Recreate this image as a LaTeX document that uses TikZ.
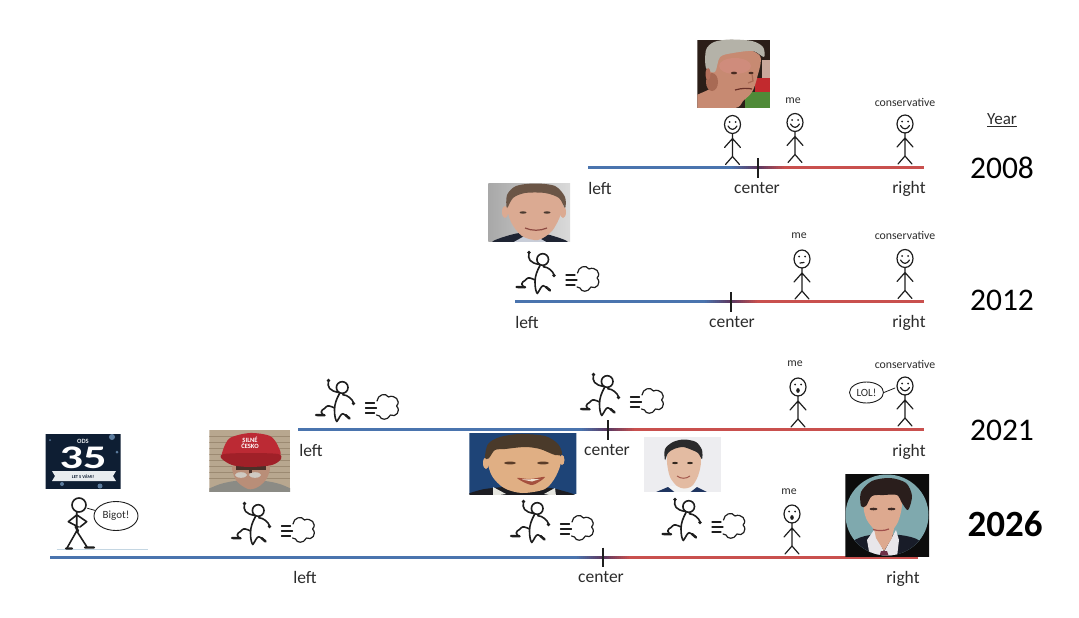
\documentclass[tikz,border=0pt]{standalone}
\usepackage{fontspec}
\setmainfont{Carlito}
\usetikzlibrary{calc,shapes.geometric}
\newcommand{\dc}[2]{\definecolor{#1}{HTML}{#2}}
\dc{lblue}{4A74AE}\dc{lred}{C9504E}\dc{lmid}{5E3A62}\dc{ink}{1E1E1E}\dc{txt}{2C2C2C}
\dc{aDark}{2B1E18}\dc{aPink}{C9A79A}\dc{aRed}{C22A2E}\dc{aGreen}{4F8A38}\dc{aSkin}{C78A72}\dc{aFlush}{CF8C7C}\dc{aHair}{B4B2A8}\dc{aEar}{B5705C}\dc{aEye}{4A2C22}\dc{aMouth}{6A3028}\dc{aShade}{A86A54}
\dc{bL}{A8A8A8}\dc{bR}{DADADA}\dc{bSkin}{DBAA92}\dc{bHair}{6B5546}\dc{bSuit}{1E2433}\dc{bShirt}{C8CDD8}\dc{bEye}{4A3A30}\dc{bMouth}{8E4A42}
\dc{oBg}{0E1E33}\dc{oBand}{E8ECEF}\dc{oSpot}{5C7C9E}
\dc{hBg}{B8A78F}\dc{hRed}{BC2A34}\dc{hDark}{A02028}\dc{hSkin}{B98E78}\dc{hGrey}{CFCAC2}\dc{hShirt}{8B8B85}\dc{hShade}{4A3028}\dc{hLine}{9C8A72}
\dc{tBg}{1E4477}\dc{tSkin}{E0AF84}\dc{tHair}{4A3A2A}\dc{tShirt}{E6E6E0}\dc{tSuit}{1D1D22}\dc{tEye}{5A3C28}\dc{tMouth}{A5503E}\dc{tTeeth}{EFE0D0}
\dc{pBg}{EDEDF0}\dc{pSkin}{E3BBA2}\dc{pHair}{2A2A2C}\dc{pSuit}{1F3560}\dc{pShirt}{F2F2F2}\dc{pEye}{33281F}\dc{pMouth}{A55A4E}
\dc{kBg}{0C0C0C}\dc{kTeal}{7FA9AE}\dc{kHair}{2A1E1C}\dc{kSkin}{DDA98F}\dc{kSuit}{181C28}\dc{kShirt}{E8E6EA}\dc{kTie}{6E3048}\dc{kEye}{3E2A24}\dc{kMouth}{A0504C}
\dc{gline}{C4D6E2}
\tikzset{
  lbl/.style={font=\fontsize{17.5}{18}\selectfont,text=txt,inner sep=0pt},
  small/.style={font=\fontsize{11.8}{12}\selectfont,text=txt,inner sep=0pt},
  yearlbl/.style={font=\fontsize{31.5}{33}\selectfont,text=black,inner sep=0pt},
  fig/.style={draw=ink,line width=1.2pt,line cap=round,line join=round},
  run/.style={draw=ink,line width=1.6pt,line cap=round,line join=round},
  bubble/.style={draw=ink,line width=.9pt,ellipse,inner sep=0pt,text=txt},
}
\newcommand{\stickman}[3]{%
  \begin{scope}[shift={(#1,#2)}]
    \draw[fig] (0,0) ellipse (8 and 9);
    \draw[fig] (0,9) -- (0,32) (-8,23) -- (0,14) -- (8,23) (-7,40) -- (0,32) -- (7,40);
    \fill[ink] (-3,-2.5) circle (1) (3,-2.5) circle (1);
    #3
  \end{scope}}
\newcommand{\msmile}{\draw[fig] (-4.5,1.5) .. controls (-2,6) and (2,6) .. (4.5,1.5);}
\newcommand{\mflat}{\draw[fig] (-2,4) -- (2,3.5);}
\newcommand{\moh}{\fill[ink] (0,3.5) ellipse (1.8 and 2.4);}
\newcommand{\runner}[2]{%
  \begin{scope}[shift={(#1,#2)}]
    \draw[run] (27.7,7.5) circle (5.8);
    \draw[run] (14,1) .. controls (12.5,7) and (15,11) .. (24.5,12.5);
    \fill[ink] (14,0.5) circle (1.8);
    \draw[run] (25,13.5) .. controls (22,19) and (20,24) .. (20,30) .. controls (20,36) and (21,40) .. (22.3,41.5) .. controls (25,38) and (26,34) .. (28.3,33.7) .. controls (31,34) and (33,37) .. (35,38);
    \draw[run,line width=2.4pt] (31,35) -- (35,38.5);
    \draw[run] (28.3,14.7) .. controls (33,15) and (38,19) .. (39,23);
    \fill[ink] (39,23.5) circle (1.9);
    \draw[run] (20,28) .. controls (16,26) and (13,25) .. (11.5,27) .. controls (9,30) and (6,30) .. (6.7,32) .. controls (7,34) and (9,35) .. (10,35);
    \draw[run,line width=2.4pt] (1.5,35) -- (10,35.3);
    \draw[fig] (51,23) -- (60,23) (51,28) -- (62,28) (51,33) -- (60,33);
    \draw[fig] (62.5,21) .. controls (63,15) and (71,12) .. (74,17) .. controls (80,14) and (87,21) .. (82,26)
       .. controls (87,31) and (81,38) .. (76,35) .. controls (73,41) and (66,40) .. (65,36)
       .. controls (64,35) and (63,35) .. (62,35);
  \end{scope}}
\newcommand{\axis}[4]{%
  \fill[lblue] (#1,#3-1.5) rectangle (#4-28,#3+1.5);
  \fill[lred] (#4+28,#3-1.5) rectangle (#2,#3+1.5);
  \foreach \i in {0,...,13}{%
    \pgfmathtruncatemacro\p{\i*100/13}%
    \fill[lmid!\p!lblue] (#4-28+2*\i,#3-1.5) rectangle (#4-25.8+2*\i,#3+1.5);
    \fill[lred!\p!lmid] (#4+2*\i,#3-1.5) rectangle (#4+2.2+2*\i,#3+1.5);
  }
  \draw[ink,line width=2pt] (#4,#3-9.5) -- (#4,#3+10);}
\begin{document}
\begin{tikzpicture}[x=1pt,y=-1pt]
\useasboundingbox (0,0) rectangle (1079,618);
\fill[white] (0,0) rectangle (1079,618);

% axes
\axis{588}{924}{167.5}{758}
\axis{515}{924}{301.5}{731}
\axis{298}{924}{429.5}{608}
\axis{50}{918}{557}{603}

% photo 2008
\begin{scope}
  \clip (697.3,40) rectangle (770,107.5);
  \fill[aDark] (697,40) rectangle (770,108);
  \fill[aPink] (762,60) rectangle (770,80);
  \fill[aRed] (755,78) rectangle (770,93);
  \fill[aGreen] (745,92) rectangle (770,108);
  \fill[aSkin] plot[smooth cycle] coordinates {(706.7,66.7) (713,50) (736.7,46) (760,56) (757,78) (752,92) (743,101) (735,108) (694,110) (694,97) (711.7,86.7)};
  \fill[aFlush] (735,66) ellipse (16 and 8);
  \fill[aShade] (712,82) ellipse (6 and 9);
  \fill[aHair] plot[smooth cycle] coordinates {(706,68) (706,50) (714,42) (730,39.5) (752,41) (763,47) (764,57) (753,51) (733,53) (720,57) (715,72)};
  \fill[aEar] (708,74) ellipse (2.5 and 6);
  \fill[aEye] (734,73) ellipse (3.2 and 1.3) (751,73) ellipse (2.5 and 1.2);
  \draw[aShade,line width=1.2pt] (752,74) -- (753,81) -- (748,83);
  \draw[aMouth,line width=1.2pt] (735,90) .. controls (742,88) and (748,88) .. (752,89);
\end{scope}

% photo 2012
\begin{scope}
  \clip (488.3,183.3) rectangle (570,241.7);
  \shade[left color=bL,right color=bR] (488,183) rectangle (570,242);
  \fill[bSuit] plot[smooth cycle] coordinates {(494,243) (510,235) (530,232) (550,235) (566,243)};
  \fill[bShirt] (512,243) -- (530,233) -- (548,243) -- cycle;
  \fill[bSkin] plot[smooth cycle] coordinates {(507,205) (511,222) (522,236) (538,240) (552,231) (561,214) (563,200) (558,190) (535,186) (512,190)};
  \fill[bSkin] (505,212) ellipse (3 and 6) (563,212) ellipse (3 and 6);
  \fill[bHair] plot[smooth cycle] coordinates {(507,208) (507,195) (516,186) (535,183.5) (555,186) (565,197) (565,208) (559,198) (545,193) (525,193) (513,198)};
  \fill[bEye] (523,212.5) ellipse (3.5 and 1.2) (547,212.5) ellipse (3.5 and 1.2);
  \draw[bMouth,line width=1.2pt] (525,228) .. controls (532,231) and (540,231) .. (547,228);
\end{scope}

% ODS logo
\begin{scope}
  \clip (45.7,434) rectangle (120.7,489);
  \fill[oBg] (45,434) rectangle (121,489);
  \fill[oSpot] (112,437) circle (3) (62,484) circle (2) (100,486) circle (2.5) (50,440) circle (1) (117,452) circle (1.5);
  \fill[oBand] (52,471) -- (116,471) -- (113,476) -- (116,481) -- (52,481) -- (55,476) -- cycle;
  \node[inner sep=0pt,text=oBand,font=\bfseries\fontsize{6.5}{7}\selectfont] (odsa) at (83,441) {ODS};
  \node[inner sep=0pt,text=white,xscale=1.4,font=\bfseries\fontsize{33}{33}\selectfont] (odsb) at (83,458) {35};
  \node[inner sep=0pt,text=oBg,font=\bfseries\fontsize{4.5}{5}\selectfont] (odsc) at (83,477) {LET S VÁMI!};
\end{scope}

% cap photo
\begin{scope}
  \clip (209.3,430) rectangle (290,491.7);
  \fill[hBg] (209,430) rectangle (290,492);
  \foreach \yy in {436,442,...,480}{\draw[hLine,line width=.6pt] (209,\yy) -- (290,\yy);}
  \fill[hShirt] plot[smooth cycle] coordinates {(205,495) (215,486) (235,481) (265,481) (285,486) (294,495)};
  \fill[hSkin] plot[smooth cycle] coordinates {(234,464) (236,480) (248,489) (258,487) (267,478) (268,464)};
  \fill[hShade] (236,464) rectangle (266,470);
  \fill[hGrey] (241,475) ellipse (6 and 2.8) (255,475) ellipse (6 and 2.8);
  \fill[hShade] (249,467) rectangle (252,473);
  \fill[hRed] plot[smooth cycle] coordinates {(223,450) (230,438) (250,433) (270,436) (278,446) (279,456) (250,455) (224,456)};
  \fill[hDark] plot[smooth cycle] coordinates {(221,458) (224,454) (250,453) (278,454) (281,459) (272,465) (250,467) (232,465)};
  \node[inner sep=0pt,align=center,text=white,font=\bfseries\fontsize{6.5}{6.5}\selectfont] (caplabel) at (250,443) {SILNÉ\\ČESKO};
\end{scope}

% photo centre left
\begin{scope}
  \clip (469.3,433.3) rectangle (576.3,494);
  \fill[tBg] (469,433) rectangle (577,494);
  \fill[tSuit] plot[smooth cycle] coordinates {(470,497) (480,490) (505,487) (540,487) (560,490) (572,497)};
  \fill[tShirt] (493,487) -- (506,494) -- (493,496) -- cycle (555,488) -- (544,494) -- (556,496) -- cycle;
  \fill[tSkin] plot[smooth cycle] coordinates {(488,460) (492,476) (504,488) (522,493) (545,489) (556,476) (561,460) (553,446) (525,442) (497,446)};
  \fill[tSkin] (486,463) ellipse (3 and 6) (562,460) ellipse (2.5 and 5);
  \fill[tHair] plot[smooth cycle] coordinates {(485,458) (488,444) (500,437) (520,434) (545,436) (558,444) (562,454) (555,455) (540,449) (525,447) (505,449) (495,450) (489,458)};
  \fill[tEye] (510,463) ellipse (6 and 1.4) (543,463) ellipse (6 and 1.4);
  \fill[tMouth] plot[smooth cycle] coordinates {(517,478) (530,479) (545,477) (532,485)};
  \fill[tTeeth] (522,479.5) -- (540,479) -- (532,481.5) -- cycle;
\end{scope}

% photo centre right
\begin{scope}
  \clip (644,437.3) rectangle (721,491.7);
  \fill[pBg] (644,437) rectangle (721,492);
  \fill[pShirt] (668,486) -- (697,486) -- (697,493) -- (668,493) -- cycle;
  \fill[pSuit] (655,492.5) -- (668,487) -- (675,492.5) -- cycle (690,492.5) -- (697,487) -- (708,492.5) -- cycle;
  \fill[pSkin] plot[smooth cycle] coordinates {(667,462) (670,477) (677,486) (684,488.5) (692,486) (698,476) (701,462) (698,449) (683,445) (669,449)};
  \fill[pHair] plot[smooth cycle] coordinates {(665,460) (665,449) (673,442) (684,439.5) (696,442) (702,450) (702,459) (698,453) (692,450) (683,447) (674,449) (668,453)};
  \fill[pEye] (675,463) ellipse (2.8 and 1.1) (690,463) ellipse (2.8 and 1.1);
  \draw[pMouth,line width=1pt] (677,476) .. controls (681,479) and (686,479) .. (690,476);
\end{scope}

% oval portrait
\begin{scope}
  \clip (845.3,474.3) rectangle (929,556.7);
  \fill[kBg] (845,474) rectangle (930,557);
  \begin{scope}
    \clip (887,515) ellipse (41.5 and 40.5);
    \fill[kTeal] (845,474) rectangle (930,557);
    \fill[kSuit] plot[smooth cycle] coordinates {(844,560) (852,542) (870,535) (900,535) (920,541) (932,560)};
    \fill[kShirt] (867,540) -- (874,530) -- (884,552) -- (896,530) -- (899,540) -- (897,557) -- (870,557) -- cycle;
    \fill[kSkin] (873,524) -- (895,524) -- (892,538) -- (884,551) -- (876,538) -- cycle;
    \fill[kTie] (881,551) -- (887,551) -- (889,557) -- (879,557) -- cycle;
    \fill[kSkin] plot[smooth cycle] coordinates {(864,505) (866,518) (872,527) (880,534) (890,532) (898,522) (902,505) (898,495) (875,493)};
    \fill[kHair] plot[smooth cycle] coordinates {(861,506) (861,492) (872,481) (890,478) (906,483) (912,496) (908,510) (902,503) (897,495) (884,495) (872,496) (866,506)};
    \fill[kEye] (873.5,509) ellipse (4 and 1.3) (891.5,509) ellipse (4 and 1.3);
    \draw[kMouth,line width=1.2pt] (873,529.5) .. controls (878,531) and (884,531) .. (889,529);
  \end{scope}
\end{scope}

% stick figures
\stickman{732.5}{124.5}{\msmile}
\stickman{795}{122.5}{\msmile}
\stickman{905}{124}{\msmile}
\stickman{802}{259}{\mflat}
\stickman{905}{258.5}{\msmile}
\stickman{798}{387}{\moh}
\stickman{905}{386}{\msmile}
\stickman{792}{514}{\moh}

% runners
\runner{515}{252}
\runner{314.5}{380}
\runner{579.5}{374}
\runner{230.5}{503}
\runner{509.5}{501}
\runner{661}{499}

% LOL bubble
\node[bubble,minimum width=34pt,minimum height=21pt,font=\fontsize{11}{11}\selectfont] (lolb) at (866.5,392.5) {LOL!};
\coordinate (loltail) at (895,388);
\draw[fig,line width=.8pt] (lolb.east) -- (loltail);

% Bigot figure
\draw[gline,line width=.8pt] (56.7,549.5) -- (148.3,549.5);
\draw[run] (79,505) circle (7) (76.7,512) -- (76.7,531) (76.7,515) -- (68.3,521.7) -- (78.3,527) (77,515) -- (86.7,521.7) -- (80,527) (76.7,531) -- (67,548) (76.7,531) -- (87,547);
\draw[run,line width=2.4pt] (75.7,526.5) -- (78,531) (66,548.5) -- (72,548.5) (85,547.5) -- (94,547.5);
\node[bubble,minimum width=44pt,minimum height=29pt,font=\fontsize{11}{11}\selectfont] (bigotb) at (116,516) {Bigot!};
\coordinate (bigottail) at (87.5,508.3);
\draw[fig,line width=.8pt] (bigotb.165) -- (bigottail);

% labels
\node[lbl] (l08) at (600,188) {left};
\node[lbl] (c08) at (757,188.5) {center};
\node[lbl] (r08) at (909,188.5) {right};
\node[lbl] (l12) at (527,322) {left};
\node[lbl] (c12) at (732,322.5) {center};
\node[lbl] (r12) at (909,322.5) {right};
\node[lbl] (l21) at (311,450) {left};
\node[lbl] (c21) at (607,450.5) {center};
\node[lbl] (r21) at (909,451.5) {right};
\node[lbl] (l26) at (305,577) {left};
\node[lbl] (c26) at (601,577.5) {center};
\node[lbl] (r26) at (903,578.5) {right};
\node[small] (m08) at (793,101) {me};
\node[small] (s08) at (905,102) {conservative};
\node[small] (m12) at (799,236) {me};
\node[small] (s12) at (905,235.5) {conservative};
\node[small] (m21) at (795,364) {me};
\node[small] (s21) at (905,364.5) {conservative};
\node[small] (m26) at (789,491.5) {me};
\node[inner sep=0pt,font=\fontsize{17}{18}\selectfont,text=txt] (yearh) at (1002,120) {\underline{Year}};
\node[yearlbl] (y08) at (1002,168) {2008};
\node[yearlbl] (y12) at (1002,300) {2012};
\node[yearlbl] (y21) at (1002,430) {2021};
\node[yearlbl,font=\bfseries\fontsize{37}{38}\selectfont] (y26) at (1005,524) {2026};
\end{tikzpicture}
\end{document}
